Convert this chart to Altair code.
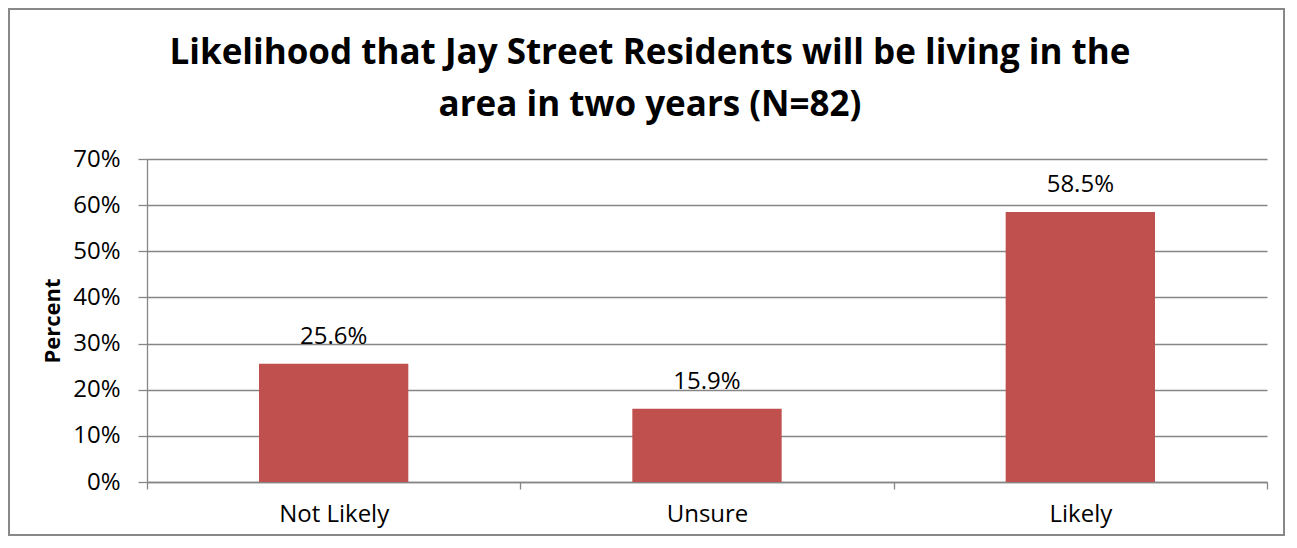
import altair as alt
import pandas as pd

categories = ["Not Likely", "Unsure", "Likely"]
values = [0.256, 0.159, 0.585]
value_labels = ["25.6%", "15.9%", "58.5%"]
y_ticks = [0, 0.1, 0.2, 0.3, 0.4, 0.5, 0.6, 0.7]
title_lines = ["Likelihood that Jay Street Residents will be living in the",
               "area in two years (N=82)"]

df = pd.DataFrame({
    "cat": categories,
    "idx": list(range(len(categories))),
    "value": values,
    "label": value_labels,
})

label_expr = " : ".join(
    f"datum.value == {i + 0.5} ? '{c}'" for i, c in enumerate(categories)
) + " : ''"

FONT = "Open Sans"
GRAY = "#868686"
BAR = "#C0504D"
n = len(categories)
W, H = 1120, 323

x_axis = alt.Axis(
    values=[i * 0.5 for i in range(2 * n + 1)],
    labelExpr=label_expr,
    title=None,
    grid=False,
    domainColor=GRAY,
    domainWidth=1.3,
    tickColor=GRAY,
    tickWidth=1.3,
    tickSize=7,
    tickOpacity={"condition": {"test": "datum.value % 1 != 0", "value": 0}, "value": 1},
    labelFont=FONT,
    labelFontSize=24,
    labelColor="#000000",
    labelPadding=13,
    labelAngle=0,
)

y_axis = alt.Axis(
    values=y_ticks,
    format=".0%",
    title="Percent",
    titleFont=FONT,
    titleFontSize=22,
    titleFontWeight="bold",
    titleColor="#000000",
    titlePadding=8,
    grid=True,
    gridColor=GRAY,
    gridWidth=1.3,
    domainColor=GRAY,
    domainWidth=1.3,
    tickColor=GRAY,
    tickWidth=1.3,
    tickSize=9,
    labelFont=FONT,
    labelFontSize=24,
    labelColor="#000000",
    labelPadding=18,
)

base = alt.Chart(df).transform_calculate(
    x0="datum.idx + 0.3", x1="datum.idx + 0.7", xc="datum.idx + 0.5", zero="0"
)

bars = base.mark_bar(color=BAR).encode(
    x=alt.X("x0:Q", scale=alt.Scale(domain=[0, n], nice=False, zero=False), axis=x_axis),
    x2="x1:Q",
    y=alt.Y("value:Q", scale=alt.Scale(domain=[0, 0.7], nice=False), axis=y_axis),
    y2="zero:Q",
)

texts = base.mark_text(
    font=FONT, fontSize=24, color="#000000", baseline="alphabetic", dy=-20
).encode(
    x="xc:Q",
    y="value:Q",
    text="label:N",
)

title_df = pd.DataFrame({"t": [0]})
title1 = alt.Chart(title_df).mark_text(
    font=FONT, fontSize=35, fontWeight="bold", color="#000000",
    align="center", baseline="alphabetic"
).encode(x=alt.value(503), y=alt.value(-95), text=alt.value(title_lines[0]))
title2 = alt.Chart(title_df).mark_text(
    font=FONT, fontSize=35, fontWeight="bold", color="#000000",
    align="center", baseline="alphabetic"
).encode(x=alt.value(503), y=alt.value(-43), text=alt.value(title_lines[1]))

border = alt.Chart(title_df).mark_rect(
    fill=None, stroke="#888888", strokeWidth=2
).encode(
    x=alt.value(-138), x2=alt.value(W + 17),
    y=alt.value(-150), y2=alt.value(H + 53),
)

chart = alt.layer(bars, texts, title1, title2, border).properties(
    width=W,
    height=H,
    autosize=alt.AutoSizeParams(type="none"),
    padding={"left": 139, "top": 151, "right": 18, "bottom": 54},
    background="white",
).configure_view(stroke=None)

chart.save("out.html", embed_options={"renderer": "svg", "actions": False})
